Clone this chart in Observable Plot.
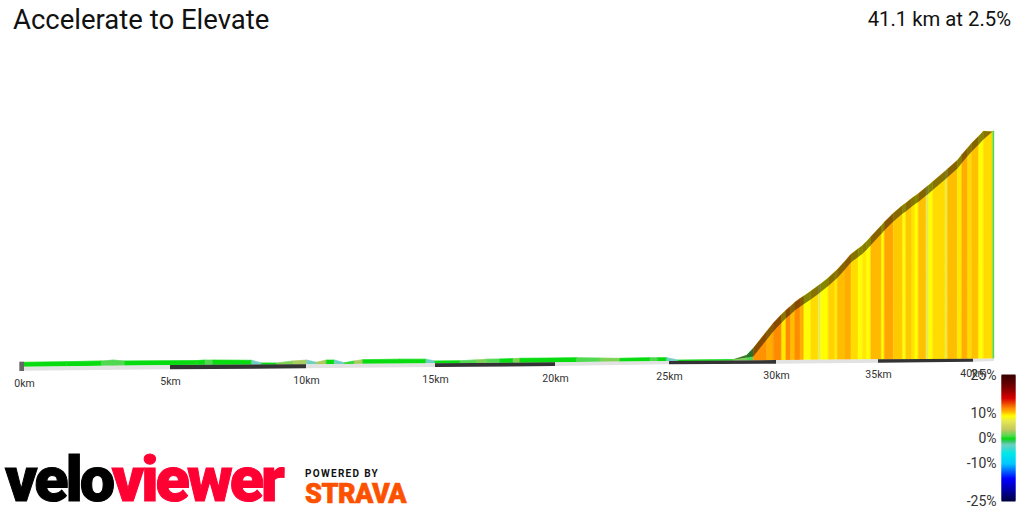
<!DOCTYPE html>
<html><head><meta charset="utf-8">
<script src="https://cdn.jsdelivr.net/npm/d3@7"></script>
<script src="https://cdn.jsdelivr.net/npm/@observablehq/plot@0.6"></script>
<style>
html,body{margin:0;padding:0;background:#fff}
#chart{position:relative;width:1024px;height:512px;overflow:hidden;font-family:Roboto,sans-serif}
#chart svg{position:absolute;left:0;top:0;background:transparent}
.t{position:absolute;white-space:nowrap;line-height:1}
</style></head><body>
<div id="chart">
<div class="t" style="left:13px;top:6px;font-size:27.5px;color:#111">Accelerate to Elevate</div>
<div class="t" style="right:13px;top:9px;font-size:20.3px;color:#111">41.1 km at 2.5%</div>
<div class="t" style="left:5px;top:448px;font-size:63px;font-weight:900;letter-spacing:-3px;-webkit-text-stroke:1px currentColor;color:#000">velo<span style="color:#ff0033">viewer</span></div>
<div class="t" style="left:305px;top:469px;font-size:10px;font-weight:700;letter-spacing:1.3px;color:#111">POWERED BY</div>
<div class="t" style="left:305px;top:481px;font-size:27px;font-weight:900;letter-spacing:-.5px;-webkit-text-stroke:.6px #fc5200;color:#fc5200">STRAVA</div>
</div>
<script>
// distance (km) of profile points, elevation (m), gradient (%) of the stretch starting at each point
const kmFlat=[0,1.46,2.66,3.05,3.46,5.98,6.29,6.58,8.0,8.37,8.92,9.53,10.02,10.4,10.79,11.1,11.49,11.88,12.2,13.64,14.65,15.0,16.04,16.74,17.15,17.71,18.26,18.54,19.79,20.95,21.97,22.85,24.17,24.5,24.9,25.43,28.0,28.63];
const eleFlat=[21,24,27,31,27,29,31,31,30,18,18,27,31,21,31,31,19,27,33,35,35,27,28,32,35,36,38,39,40,42,40,39,42,42,42,31,34,43];
const gradeFlat=[0,0,1,1,0,0,1,0,-2.5,0,2,3,-2.5,3,0,-2.5,0.5,3,0,0,-2.5,0,1,2,1,0,2,0,0,1,2,0,1,0,-2.5,0,2,1];
const kmClimb=[28.94,29.57,29.87,30.28,30.49,30.72,30.93,31.18,31.37,31.70,32.07,32.19,32.56,32.89,33.00,33.38,33.68,34.03,34.23,34.45,34.64,35.19,35.33,35.81,36.30,36.46,36.78,36.95,37.12,37.53,37.67,37.88,38.53,38.65,39.18,39.41,39.72,39.93,40.30,40.54,41.03,41.1];
const eleClimb=[58,135,171,211,230,248,266,282,294,315,340,348,375,403,412,450,482,506,520,540,559,612,625,666,702,711,733,744,754,783,792,808,855,864,904,929,960,981,1012,1035,1060,1062];
const gradeClimb=[11.8,11,12,9.5,12,10.5,12,11,8.8,9.8,7,9,10,9.3,10.5,11,9.8,9,9.5,9,10.6,9,11.2,10.2,8.8,10.2,9.6,9,10.4,7,9,9.8,7.5,10.5,9.5,11,9.8,10.4,9,9.8,1,1];
// ground ribbon: km marks, its upper and lower edge
const tileKm=[0,5,10,15,20,25,30,35,40,41.1];
const tileTop=[1,9,12,17,21,27,31,35,37,38];
const tileBottom=[-17,-10,-6,0,4.5,12,15,19,24,27];
const tileFill=["#e2e2e2","#333333","#e2e2e2","#333333","#e2e2e2","#333333","#e2e2e2","#333333","#e2e2e2"];
// distance axis labels
const tickKm=[0,5,10,15,20,25,30,35,40];
const tickY=[-72,-64,-58,-55,-50,-41,-36,-32,-27];
const xRange=[24,170,306,435,555,669,776,878,973,994];
// gradient colour ramp
const gradeStops=[-25,-20,-16,-10,-6,-2.5,-1,0,1,3.5,7,9,10.4,12,16,20,25];
const gradeColors=["#000040","#0000b0","#0000ff","#00c8ff","#00e8e8","#70d0c0","#30c860","#08dc10","#50d850","#c0c860","#e8e850","#ffff00","#ffc000","#ff8c00","#d80000","#800000","#3a0000"];
const legendTicks=[25,10,0,-10,-25];

const km=kmFlat.concat(kmClimb), ele=eleFlat.concat(eleClimb), grade=gradeFlat.concat(gradeClimb);
const groundAt=d3.scaleLinear(tileKm,tileTop);
const depthAt=k=>k<28.6?0:k<28.7?11:k>41?0:27;
const lowerAt=k=>k<28.7||k>41?0:11;
const pt=(i,j)=>({seg:i,km:km[j],ele:ele[j],g:grade[i],ground:groundAt(km[j]),top:ele[j]+depthAt(km[j]),low:ele[j]-lowerAt(km[j])});
const pts=d3.range(km.length-1).flatMap(i=>[pt(i,i),pt(i,i+1)]);
const tiles=tileFill.flatMap((f,i)=>[
 {seg:i,km:tileKm[i],y1:tileTop[i],y2:tileBottom[i],f},
 {seg:i,km:tileKm[i+1],y1:tileTop[i+1],y2:tileBottom[i+1],f}]);
const ticks=tickKm.map((k,i)=>({k,y:tickY[i],label:k+"km"}));
const color={type:"linear",domain:gradeStops,range:gradeColors};

const main=Plot.plot({
 width:1024,height:512,margin:0,
 style:{fontFamily:"Roboto,sans-serif",background:"transparent"},
 x:{domain:[0,1024],range:[0,1024],transform:d3.scaleLinear(tileKm,xRange),axis:null},
 y:{domain:[-652.5,1651.5],range:[512,0],axis:null},
 color,
 marks:[
  Plot.areaY(pts,{x:"km",y1:"ground",y2:"ele",z:"seg",fill:"g",stroke:"g",strokeWidth:.4}),
  Plot.areaY(pts,{x:"km",y1:"low",y2:"top",z:"seg",fill:"g",stroke:"g",strokeWidth:.3}),
  Plot.areaY(pts,{x:"km",y1:"low",y2:"top",z:"seg",fill:"#000",fillOpacity:.48}),
  Plot.areaY(tiles,{x:"km",y1:"y1",y2:"y2",z:"seg",fill:"f"}),
  Plot.rect([0],{x1:-.16,x2:0,y1:-18,y2:24,fill:"#666"}),
  Plot.text(ticks,{x:"k",y:"y",text:"label",fontSize:10.5,fill:"#333"})
 ]
});
document.getElementById("chart").prepend(main);

const steps=d3.range(-25,25,.4);
const legend=Plot.plot({
 width:74,height:147,marginLeft:52,marginRight:9,marginTop:10,marginBottom:11,
 style:{fontFamily:"Roboto,sans-serif",background:"transparent",overflow:"visible"},
 x:{axis:null,domain:[0,1]},
 y:{domain:[-25,25]},
 color,
 marks:[
  Plot.rect(steps,{x1:0,x2:1,y1:d=>d,y2:d=>d+.4,fill:d=>d+.2,stroke:d=>d+.2,strokeWidth:1}),
  Plot.axisY({ticks:legendTicks,tickFormat:d=>d+"%",tickSize:0,tickPadding:6,fontSize:14,color:"#333",label:null})
 ]
});
legend.style.left="950px";legend.style.top="365px";
document.getElementById("chart").append(legend);
</script>
</body></html>
